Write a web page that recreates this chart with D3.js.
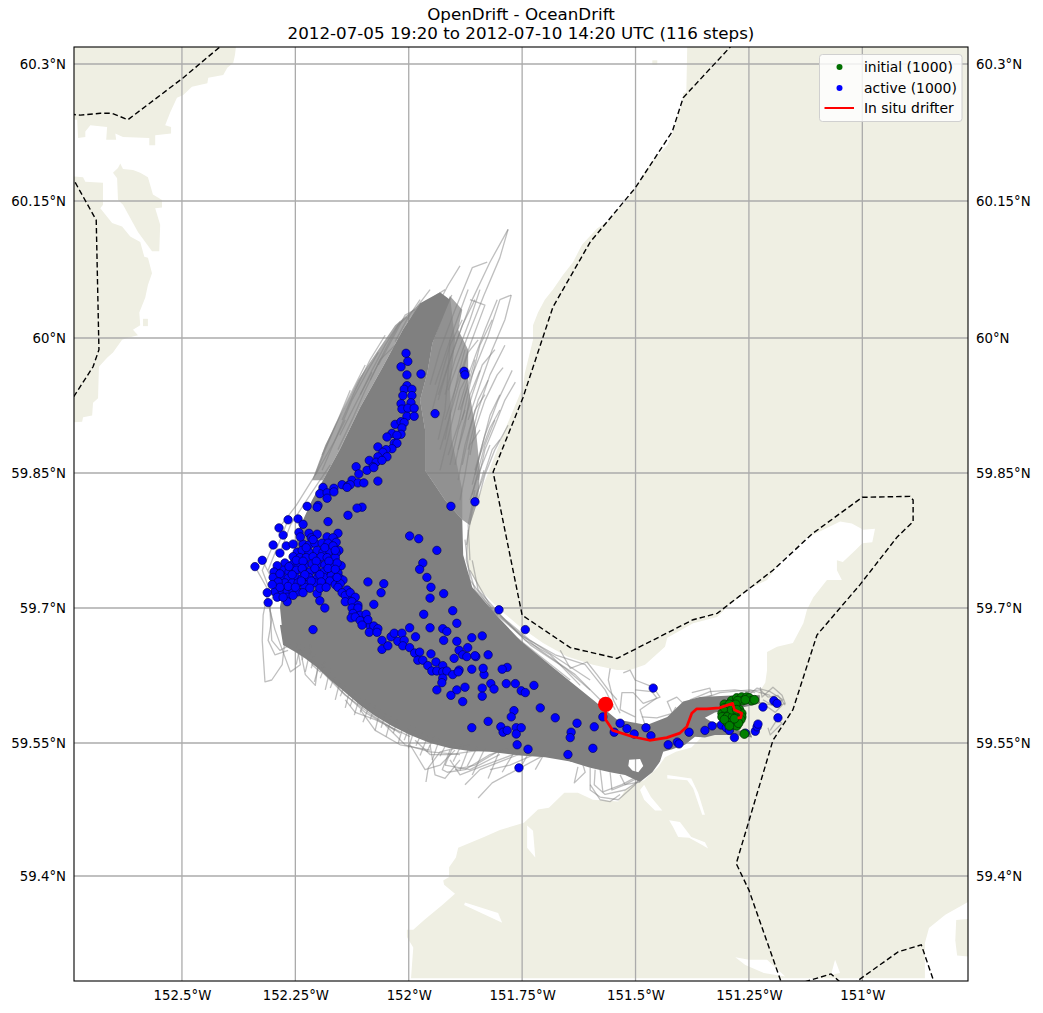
<!DOCTYPE html>
<html><head><meta charset="utf-8">
<script src="https://cdn.jsdelivr.net/npm/d3@7"></script>
<style>html,body{margin:0;padding:0;background:#fff}svg{display:block}text{font-family:"DejaVu Sans",sans-serif;fill:#000}</style>
</head><body><div id="chart"></div>
<script>
const titleLines = ["OpenDrift - OceanDrift", "2012-07-05 19:20 to 2012-07-10 14:20 UTC (116 steps)"];
const lonTicks = [-152.5,-152.25,-152,-151.75,-151.5,-151.25,-151];
const latTicks = [59.4,59.55,59.7,59.85,60,60.15,60.3];
const legendLabels = ["initial (1000)","active (1000)","In situ drifter"];

const landNW = [[-152.746,60.319],[-152.381,60.319],[-152.383,60.310],[-152.387,60.301],[-152.400,60.296],[-152.409,60.288],[-152.442,60.285],[-152.444,60.279],[-152.478,60.275],[-152.497,60.266],[-152.511,60.263],[-152.526,60.247],[-152.537,60.233],[-152.524,60.231],[-152.524,60.224],[-152.559,60.222],[-152.559,60.211],[-152.572,60.211],[-152.572,60.219],[-152.630,60.220],[-152.647,60.224],[-152.645,60.217],[-152.667,60.217],[-152.665,60.231],[-152.702,60.233],[-152.713,60.226],[-152.713,60.220],[-152.729,60.219],[-152.731,60.239],[-152.746,60.239]];
const landIsland = [[-152.636,60.191],[-152.630,60.185],[-152.608,60.184],[-152.592,60.181],[-152.575,60.176],[-152.564,60.157],[-152.544,60.151],[-152.544,60.143],[-152.559,60.142],[-152.548,60.124],[-152.550,60.095],[-152.566,60.095],[-152.597,60.116],[-152.630,60.146],[-152.641,60.151],[-152.643,60.175],[-152.652,60.181],[-152.641,60.186]];
const landWest = [[-152.746,60.177],[-152.718,60.176],[-152.713,60.171],[-152.674,60.170],[-152.674,60.146],[-152.680,60.142],[-152.654,60.126],[-152.632,60.122],[-152.614,60.111],[-152.592,60.105],[-152.583,60.089],[-152.575,60.088],[-152.566,60.071],[-152.575,60.058],[-152.581,60.044],[-152.594,60.028],[-152.592,60.014],[-152.608,60.009],[-152.597,60.003],[-152.621,60.000],[-152.632,59.998],[-152.652,59.984],[-152.665,59.978],[-152.683,59.968],[-152.685,59.933],[-152.696,59.928],[-152.698,59.914],[-152.718,59.912],[-152.720,59.907],[-152.746,59.906]];
const landSmallA = [[-152.586,60.021],[-152.575,60.021],[-152.575,60.013],[-152.586,60.013]];
const landSmallB = [[-151.463,60.304],[-151.452,60.304],[-151.452,60.299],[-151.463,60.299]];
const landSmallC = [[-150.793,59.350],[-150.751,59.352],[-150.751,59.308],[-150.791,59.310],[-150.795,59.327]];
const landMain = [[-151.386,60.319],[-150.751,60.319],[-150.751,59.375],[-150.817,59.356],[-150.853,59.341],[-150.862,59.324],[-150.862,59.284],[-151.995,59.284],[-151.990,59.319],[-152.004,59.331],[-152.004,59.339],[-151.990,59.339],[-151.966,59.350],[-151.926,59.367],[-151.898,59.380],[-151.922,59.390],[-151.924,59.395],[-151.911,59.399],[-151.911,59.410],[-151.896,59.421],[-151.891,59.432],[-151.834,59.444],[-151.799,59.452],[-151.746,59.460],[-151.715,59.475],[-151.691,59.477],[-151.657,59.494],[-151.627,59.494],[-151.594,59.486],[-151.538,59.484],[-151.523,59.497],[-151.499,59.505],[-151.481,59.508],[-151.450,59.523],[-151.435,59.534],[-151.411,59.540],[-151.377,59.545],[-151.353,59.557],[-151.338,59.564],[-151.313,59.573],[-151.280,59.582],[-151.252,59.592],[-151.232,59.603],[-151.214,59.617],[-151.210,59.631],[-151.210,59.651],[-151.188,59.657],[-151.153,59.661],[-151.130,59.683],[-151.122,59.698],[-151.108,59.712],[-151.078,59.731],[-151.045,59.731],[-151.056,59.742],[-151.056,59.753],[-151.043,59.751],[-151.016,59.764],[-151.000,59.772],[-150.978,59.773],[-150.972,59.788],[-150.998,59.787],[-151.023,59.794],[-151.049,59.796],[-151.078,59.789],[-151.122,59.778],[-151.181,59.751],[-151.210,59.731],[-151.248,59.722],[-151.298,59.701],[-151.320,59.690],[-151.373,59.683],[-151.430,59.667],[-151.435,59.657],[-151.479,59.637],[-151.512,59.631],[-151.541,59.631],[-151.594,59.637],[-151.651,59.646],[-151.704,59.661],[-151.754,59.679],[-151.799,59.698],[-151.843,59.720],[-151.869,59.746],[-151.871,59.776],[-151.865,59.798],[-151.849,59.820],[-151.825,59.850],[-151.788,59.898],[-151.748,59.946],[-151.744,59.961],[-151.726,59.998],[-151.726,60.014],[-151.715,60.028],[-151.700,60.042],[-151.682,60.053],[-151.660,60.069],[-151.638,60.083],[-151.618,60.102],[-151.585,60.120],[-151.563,60.127],[-151.541,60.140],[-151.519,60.151],[-151.501,60.164],[-151.479,60.182],[-151.461,60.195],[-151.430,60.211],[-151.419,60.224],[-151.408,60.241],[-151.397,60.257],[-151.395,60.268],[-151.388,60.269]];
const lakeA = [[-151.430,59.514],[-151.377,59.510],[-151.362,59.494],[-151.347,59.469],[-151.353,59.469],[-151.373,59.499],[-151.386,59.508],[-151.430,59.510]];
const lakeB = [[-151.426,59.463],[-151.402,59.461],[-151.377,59.444],[-151.347,59.438],[-151.340,59.431],[-151.353,59.435],[-151.382,59.443],[-151.406,59.444],[-151.417,59.455]];
const lakeC = [[-151.481,59.503],[-151.466,59.489],[-151.441,59.474],[-151.457,59.474],[-151.481,59.486],[-151.490,59.497]];
const lakeD = [[-151.739,59.457],[-151.726,59.451],[-151.721,59.421],[-151.739,59.432]];
const lakeE = [[-151.876,59.370],[-151.803,59.358],[-151.794,59.347],[-151.807,59.350],[-151.878,59.367]];
const lakeF = [[-151.280,59.308],[-151.250,59.305],[-151.210,59.305],[-151.170,59.286],[-151.217,59.290],[-151.258,59.299]];
const lakeG = [[-151.060,59.305],[-151.049,59.290],[-151.069,59.288]];

const borderA = [[-152.746,60.245],[-152.724,60.244],[-152.680,60.246],[-152.654,60.246],[-152.619,60.239],[-152.497,60.285],[-152.411,60.321]];
const borderB = [[-152.746,60.178],[-152.735,60.170],[-152.689,60.129],[-152.683,59.987],[-152.696,59.968],[-152.746,59.929]];
const borderC = [[-151.285,60.322],[-151.395,60.263],[-151.419,60.226],[-151.501,60.164],[-151.600,60.105],[-151.682,60.034],[-151.706,59.998],[-151.748,59.934],[-151.814,59.851],[-151.750,59.692],[-151.644,59.656],[-151.541,59.644],[-151.490,59.657],[-151.373,59.687],[-151.320,59.694],[-151.197,59.742],[-151.109,59.783],[-151.000,59.823],[-150.895,59.824],[-150.888,59.820],[-150.888,59.796],[-150.923,59.779],[-151.005,59.726],[-151.100,59.670],[-151.153,59.587],[-151.197,59.553],[-151.278,59.414],[-151.250,59.384],[-151.177,59.277]];
const borderD = [[-151.127,59.280],[-151.069,59.289],[-151.043,59.277]];
const borderE = [[-151.022,59.277],[-150.921,59.314],[-150.870,59.322],[-150.840,59.277]];

const swathCore = [[-151.931,60.050],[-151.909,60.042],[-151.948,59.994],[-151.959,59.961],[-151.975,59.931],[-151.964,59.898],[-151.964,59.853],[-151.920,59.820],[-151.882,59.798],[-151.880,59.759],[-151.860,59.723],[-151.805,59.691],[-151.754,59.664],[-151.682,59.634],[-151.594,59.598],[-151.541,59.576],[-151.475,59.570],[-151.430,59.579],[-151.395,59.596],[-151.358,59.601],[-151.277,59.603],[-151.226,59.603],[-151.226,59.594],[-151.259,59.590],[-151.325,59.584],[-151.347,59.578],[-151.331,59.573],[-151.309,59.571],[-151.280,59.564],[-151.248,59.564],[-151.243,59.556],[-151.280,59.559],[-151.325,59.559],[-151.347,59.556],[-151.369,59.557],[-151.391,59.548],[-151.419,59.543],[-151.439,59.540],[-151.446,59.529],[-151.463,59.517],[-151.490,59.506],[-151.523,59.514],[-151.556,59.517],[-151.600,59.522],[-151.644,59.529],[-151.682,59.540],[-151.754,59.544],[-151.820,59.548],[-151.931,59.556],[-152.004,59.573],[-152.079,59.594],[-152.152,59.617],[-152.185,59.642],[-152.218,59.664],[-152.246,59.661],[-152.279,59.676],[-152.284,59.701],[-152.270,59.737],[-152.255,59.761],[-152.240,59.790],[-152.213,59.820],[-152.189,59.842],[-152.152,59.876],[-152.107,59.923],[-152.057,59.968],[-152.013,60.009],[-151.975,60.038]];
const swathHole = [[-151.514,59.531],[-151.490,59.532],[-151.483,59.524],[-151.494,59.517],[-151.507,59.519],[-151.516,59.524]];
const swathFan = [[-151.948,59.994],[-151.909,60.046],[-151.882,60.031],[-151.891,60.009],[-151.869,59.987],[-151.869,59.948],[-151.852,59.898],[-151.843,59.853],[-151.847,59.820],[-151.865,59.792],[-151.882,59.798],[-151.920,59.820],[-151.964,59.853],[-151.964,59.898],[-151.975,59.931],[-151.959,59.961]];
const swathFanInner = [[-151.948,59.994],[-151.909,60.046],[-151.898,59.998],[-151.909,59.942],[-151.905,59.887],[-151.882,59.831],[-151.882,59.798],[-151.920,59.820],[-151.964,59.853],[-151.964,59.898],[-151.975,59.931],[-151.959,59.961]];
const swathLeft = [[-152.189,59.842],[-152.152,59.876],[-152.107,59.923],[-152.057,59.968],[-152.013,60.009],[-151.975,60.038],[-151.997,60.028],[-152.030,60.014],[-152.067,59.987],[-152.112,59.953],[-152.151,59.914],[-152.184,59.881],[-152.213,59.842]];
const swathSouth = [[-152.284,59.681],[-152.277,59.659],[-152.250,59.651],[-152.228,59.644],[-152.200,59.633],[-152.173,59.620],[-152.140,59.606],[-152.107,59.592],[-152.074,59.580],[-152.037,59.569],[-151.997,59.559],[-151.953,59.550],[-151.909,59.544],[-151.865,59.541],[-151.821,59.540],[-151.754,59.536],[-151.699,59.534],[-151.644,59.529],[-151.600,59.525],[-151.600,59.540],[-151.821,59.560],[-152.004,59.590],[-152.140,59.640],[-152.217,59.680]];

const fanTracks = [
[[-151.781,60.119],[-151.821,60.083],[-151.860,60.042],[-151.898,59.992],[-151.935,59.937]],
[[-151.781,60.119],[-151.799,60.088],[-151.834,60.047],[-151.873,59.998],[-151.913,59.942]],
[[-151.827,60.083],[-151.860,60.077],[-151.898,60.031],[-151.931,59.987],[-151.953,59.948]],
[[-151.774,60.047],[-151.788,60.020],[-151.816,59.987],[-151.843,59.948],[-151.869,59.909]],
[[-151.774,60.047],[-151.799,60.042],[-151.825,60.003],[-151.860,59.959],[-151.887,59.920]],
[[-151.865,60.042],[-151.832,60.036],[-151.865,59.992],[-151.891,59.953],[-151.920,59.909]],
[[-151.887,60.079],[-151.913,60.058],[-151.942,60.031],[-151.975,59.998]],
[[-151.905,60.047],[-151.931,60.020],[-151.953,59.992]],
[[-152.004,60.023],[-152.023,60.014],[-152.052,59.987],[-152.085,59.953]],
[[-151.986,60.031],[-152.008,60.025],[-152.037,59.998],[-152.067,59.970]],
[[-151.792,59.967],[-151.805,59.959],[-151.832,59.931],[-151.854,59.898],[-151.865,59.870]],
[[-151.765,59.951],[-151.788,59.931],[-151.810,59.903],[-151.832,59.876],[-151.847,59.842]],
[[-151.810,59.987],[-151.838,59.970],[-151.860,59.937],[-151.882,59.898],[-151.898,59.859]],
[[-151.847,59.998],[-151.869,59.984],[-151.887,59.953],[-151.909,59.914],[-151.931,59.876]],
[[-151.799,59.920],[-151.821,59.900],[-151.843,59.870],[-151.860,59.837]],
[[-151.865,59.964],[-151.887,59.942],[-151.909,59.898],[-151.931,59.853]],
[[-151.821,59.881],[-151.847,59.848],[-151.865,59.820]],
[[-151.832,59.937],[-151.854,59.920],[-151.876,59.881],[-151.891,59.842]],
[[-151.882,60.020],[-151.909,59.992],[-151.931,59.953],[-151.948,59.920]],
[[-151.843,59.898],[-151.865,59.881],[-151.876,59.848],[-151.887,59.820]],
[[-151.854,60.042],[-151.882,60.014],[-151.913,59.970],[-151.935,59.931]],
[[-151.909,59.998],[-151.913,59.964],[-151.920,59.920],[-151.935,59.887]],
[[-151.876,59.920],[-151.891,59.898],[-151.909,59.859]],
[[-151.799,59.887],[-151.816,59.876],[-151.838,59.842],[-151.860,59.814]],
[[-152.030,59.992],[-152.063,59.976],[-152.096,59.942],[-152.125,59.909],[-152.156,59.876]],
[[-152.067,59.984],[-152.090,59.964],[-152.125,59.931],[-152.162,59.887]],
[[-151.953,60.053],[-151.979,60.036],[-152.008,60.009]],
[[-152.140,59.909],[-152.162,59.887],[-152.191,59.853]],
[[-152.081,59.962],[-152.118,59.926],[-152.152,59.892]],
[[-151.805,60.042],[-151.832,60.009],[-151.865,59.964],[-151.891,59.920]],
[[-151.843,60.053],[-151.865,60.020],[-151.898,59.976],[-151.920,59.937]],
[[-151.816,60.020],[-151.843,59.992],[-151.865,59.948],[-151.882,59.909]],
[[-151.788,59.992],[-151.821,59.959],[-151.847,59.920],[-151.869,59.876]],
[[-151.772,59.964],[-151.803,59.931],[-151.832,59.892],[-151.854,59.853]],
[[-151.825,59.953],[-151.847,59.931],[-151.865,59.898],[-151.882,59.859]],
[[-151.876,59.987],[-151.891,59.959],[-151.905,59.926],[-151.920,59.887]],
[[-151.854,59.976],[-151.876,59.937],[-151.891,59.903],[-151.913,59.870]],
[[-151.931,60.042],[-151.942,60.009],[-151.964,59.976],[-151.975,59.942]],
[[-151.869,60.053],[-151.898,60.014],[-151.920,59.981],[-151.942,59.948]],
[[-151.810,59.909],[-151.832,59.881],[-151.847,59.853],[-151.860,59.826]],
[[-151.781,59.903],[-151.810,59.876],[-151.832,59.848],[-151.847,59.820]],
[[-151.799,59.937],[-151.821,59.914],[-151.838,59.881],[-151.854,59.848]],
[[-151.843,59.964],[-151.865,59.937],[-151.876,59.903],[-151.891,59.876]],
[[-152.129,59.942],[-152.156,59.909],[-152.184,59.876],[-152.206,59.848]],
[[-152.096,59.970],[-152.129,59.937],[-152.162,59.903],[-152.191,59.870]],
[[-152.052,60.003],[-152.085,59.976],[-152.118,59.942],[-152.147,59.909]],
[[-152.019,60.018],[-152.052,59.992],[-152.081,59.964],[-152.107,59.937]],
[[-151.975,60.042],[-152.002,60.022],[-152.030,59.996]],
[[-151.920,60.053],[-151.948,60.044],[-151.975,60.025]]];
const westTracks = [
[[-152.339,59.746],[-152.310,59.720],[-152.321,59.692],[-152.323,59.664],[-152.317,59.618],[-152.302,59.620],[-152.279,59.637],[-152.273,59.664]],
[[-152.323,59.753],[-152.295,59.726],[-152.306,59.698],[-152.302,59.664],[-152.284,59.653],[-152.261,59.659]],
[[-152.312,59.717],[-152.302,59.687],[-152.310,59.664],[-152.295,59.648],[-152.266,59.653]],
[[-152.310,59.706],[-152.295,59.676],[-152.261,59.629],[-152.239,59.637],[-152.248,59.664]],
[[-152.299,59.770],[-152.323,59.742],[-152.302,59.714]],
[[-152.266,59.798],[-152.288,59.770],[-152.310,59.742]],
[[-152.286,59.789],[-152.248,59.814],[-152.200,59.853],[-152.162,59.887]],
[[-152.284,59.761],[-152.261,59.792],[-152.217,59.826],[-152.173,59.859]],
[[-152.217,59.659],[-152.213,59.637],[-152.195,59.629],[-152.184,59.642]],
[[-152.239,59.653],[-152.228,59.626],[-152.206,59.614],[-152.200,59.637]]];
const southTracks = [
[[-152.239,59.653],[-152.195,59.631],[-152.140,59.603],[-152.081,59.581],[-152.019,59.561]],
[[-152.195,59.637],[-152.151,59.609],[-152.096,59.584],[-152.030,59.564]],
[[-152.140,59.598],[-152.118,59.584],[-152.074,59.576],[-151.997,59.557]],
[[-152.107,59.587],[-152.074,59.564],[-152.019,59.548],[-151.953,59.542]],
[[-152.052,59.570],[-152.008,59.548],[-151.953,59.540],[-151.887,59.537]],
[[-151.986,59.553],[-151.953,59.537],[-151.909,59.537],[-151.843,59.542]],
[[-151.962,59.506],[-151.957,59.522],[-151.931,59.540],[-151.865,59.548]],
[[-151.909,59.542],[-151.926,59.520],[-151.915,59.517],[-151.876,59.520],[-151.821,59.537],[-151.754,59.548]],
[[-151.876,59.503],[-151.843,59.520],[-151.788,59.531],[-151.732,59.542]],
[[-151.847,59.488],[-151.816,59.505],[-151.754,59.522],[-151.688,59.540]],
[[-151.909,59.531],[-151.887,59.514],[-151.832,59.525],[-151.754,59.540]],
[[-151.997,59.548],[-151.964,59.520],[-151.931,59.525],[-151.898,59.542]],
[[-151.920,59.525],[-151.865,59.520],[-151.799,59.537]],
[[-151.953,59.548],[-151.942,59.514],[-151.920,59.510],[-151.887,59.531]],
[[-151.821,59.520],[-151.777,59.525],[-151.710,59.540]],
[[-151.898,59.520],[-151.854,59.525],[-151.799,59.542]],
[[-151.627,59.523],[-151.635,59.505],[-151.611,59.517],[-151.622,59.536]],
[[-151.600,59.522],[-151.600,59.497],[-151.578,59.489],[-151.538,59.486],[-151.501,59.503],[-151.490,59.511]],
[[-151.589,59.520],[-151.591,59.503],[-151.567,59.492],[-151.523,59.497],[-151.490,59.508]],
[[-151.578,59.520],[-151.572,59.495],[-151.530,59.503],[-151.501,59.511]],
[[-151.556,59.517],[-151.552,59.497],[-151.523,59.503],[-151.494,59.511]],
[[-151.600,59.503],[-151.578,59.486],[-151.556,59.484],[-151.534,59.492]],
[[-151.534,59.514],[-151.523,59.503],[-151.490,59.506]]];
const bristleTracks = [
[[-152.239,59.659],[-152.248,59.637]],[[-152.217,59.653],[-152.228,59.629]],[[-152.195,59.642],[-152.208,59.618]],[[-152.173,59.633],[-152.184,59.609]],[[-152.151,59.620],[-152.162,59.598]],[[-152.129,59.611],[-152.140,59.589]],[[-152.107,59.603],[-152.120,59.581]],[[-152.085,59.594],[-152.101,59.573]],[[-152.063,59.587],[-152.074,59.564]],[[-152.037,59.581],[-152.050,59.557]],[[-152.010,59.573],[-152.023,59.550]],[[-151.986,59.567],[-152.001,59.544]],[[-151.957,59.559],[-151.975,59.536]],[[-151.931,59.556],[-151.948,59.531]],[[-151.898,59.551],[-151.920,59.525]],[[-151.865,59.548],[-151.887,59.519]],[[-151.832,59.544],[-151.860,59.514]],[[-151.799,59.542],[-151.825,59.510]],[[-151.765,59.542],[-151.794,59.517]],[[-151.732,59.542],[-151.754,59.522]],[[-151.699,59.540],[-151.721,59.520]],
[[-152.228,59.656],[-152.235,59.642]],[[-152.206,59.648],[-152.215,59.633]],[[-152.184,59.637],[-152.195,59.622]],[[-152.162,59.626],[-152.173,59.611]],[[-152.140,59.615],[-152.151,59.602]],[[-152.118,59.607],[-152.129,59.591]],[[-152.096,59.598],[-152.107,59.584]],[[-152.074,59.591],[-152.085,59.576]],[[-152.050,59.584],[-152.061,59.567]],[[-152.023,59.578],[-152.034,59.561]],[[-151.997,59.570],[-152.010,59.553]],[[-151.971,59.562],[-151.984,59.547]],[[-151.944,59.557],[-151.960,59.540]],[[-151.913,59.553],[-151.931,59.535]],[[-151.882,59.550],[-151.902,59.529]],[[-151.847,59.547],[-151.871,59.524]]];
const shoreTracks = [
[[-151.666,59.653],[-151.644,59.633],[-151.607,59.640],[-151.585,59.626],[-151.560,59.609],[-151.541,59.598]],
[[-151.527,59.628],[-151.512,59.631],[-151.501,59.620],[-151.461,59.612],[-151.446,59.601],[-151.483,59.594],[-151.505,59.606],[-151.530,59.606],[-151.534,59.587],[-151.501,59.579]],
[[-151.556,59.633],[-151.560,59.620],[-151.549,59.598],[-151.534,59.583]],
[[-151.501,59.609],[-151.464,59.607],[-151.453,59.600],[-151.490,59.587],[-151.479,59.570]],
[[-151.411,59.590],[-151.419,59.583],[-151.453,59.578],[-151.486,59.579]],
[[-151.376,59.606],[-151.336,59.611],[-151.332,59.603],[-151.358,59.600],[-151.395,59.594],[-151.409,59.601],[-151.430,59.596],[-151.419,59.583]],
[[-151.876,59.776],[-151.865,59.731],[-151.810,59.694],[-151.754,59.670],[-151.677,59.648],[-151.611,59.637],[-151.567,59.609],[-151.545,59.587]],
[[-151.860,59.753],[-151.847,59.720],[-151.788,59.687],[-151.732,59.659],[-151.655,59.633],[-151.600,59.609]],
[[-151.865,59.742],[-151.821,59.703],[-151.743,59.664],[-151.688,59.648],[-151.622,59.614]],
[[-151.843,59.709],[-151.777,59.681],[-151.710,59.653],[-151.633,59.626],[-151.578,59.598]],
[[-151.799,59.692],[-151.732,59.664],[-151.666,59.642],[-151.600,59.620]],
[[-151.869,59.787],[-151.873,59.753],[-151.854,59.720],[-151.803,59.692]],
[[-151.854,59.831],[-151.869,59.792],[-151.865,59.753]],
[[-151.834,59.853],[-151.860,59.809],[-151.873,59.770]],
[[-151.821,59.687],[-151.754,59.664],[-151.699,59.642],[-151.644,59.620]]];
const eastTracks = [
[[-151.225,59.612],[-151.221,59.601],[-151.197,59.612],[-151.177,59.603],[-151.170,59.594],[-151.192,59.590],[-151.219,59.598]],
[[-151.258,59.607],[-151.225,59.609],[-151.208,59.601],[-151.186,59.603],[-151.170,59.592]],
[[-151.252,59.603],[-151.232,59.611],[-151.203,59.607],[-151.175,59.598],[-151.199,59.592],[-151.236,59.596]],
[[-151.203,59.598],[-151.177,59.592],[-151.192,59.584],[-151.214,59.592]],
[[-151.203,59.564],[-151.188,59.576],[-151.177,59.572],[-151.203,59.559],[-151.208,59.567]],
[[-151.380,59.598],[-151.336,59.607],[-151.281,59.609],[-151.236,59.606]],
[[-151.358,59.598],[-151.314,59.606],[-151.247,59.609],[-151.203,59.603]]];

const activePoints = [[-152.006,59.983],[-152.002,59.974],[-152.017,59.968],[-152.004,59.959],[-151.973,59.960],[-151.878,59.963],[-151.876,59.959],[-152.004,59.947],[-152.010,59.943],[-151.993,59.943],[-152.013,59.936],[-151.993,59.936],[-151.995,59.928],[-152.017,59.927],[-152.015,59.921],[-152.002,59.922],[-151.988,59.922],[-152.004,59.913],[-151.988,59.913],[-151.942,59.916],[-152.030,59.904],[-152.017,59.907],[-152.010,59.906],[-152.015,59.900],[-152.037,59.894],[-152.017,59.893],[-152.026,59.892],[-152.048,59.890],[-152.032,59.883],[-152.026,59.883],[-152.068,59.879],[-152.037,59.877],[-152.050,59.876],[-152.057,59.873],[-152.048,59.868],[-152.068,59.868],[-152.087,59.864],[-152.072,59.862],[-152.059,59.864],[-152.079,59.857],[-152.092,59.853],[-152.077,59.856],[-152.116,59.857],[-152.110,59.849],[-152.068,59.841],[-152.147,59.837],[-152.125,59.842],[-152.134,59.836],[-152.112,59.839],[-152.099,59.839],[-152.103,59.812],[-152.114,59.811],[-152.134,59.803],[-151.907,59.813],[-151.854,59.818],
[-152.189,59.834],[-152.165,59.833],[-152.196,59.827],[-152.180,59.828],[-152.165,59.829],[-152.180,59.822],[-152.200,59.814],[-152.202,59.812],[-152.129,59.837],[-152.136,59.834],[-152.224,59.813],[-152.266,59.798],[-152.244,59.799],[-152.233,59.793],[-152.286,59.789],[-152.242,59.784],[-152.277,59.781],[-152.299,59.770],[-152.270,59.769],[-152.255,59.771],[-152.284,59.761],[-152.323,59.753],[-152.339,59.746],[-152.178,59.796],
[-152.220,59.783],[-152.202,59.782],[-152.180,59.779],[-152.156,59.783],[-152.167,59.778],[-152.215,59.778],[-152.233,59.771],[-152.220,59.770],[-152.207,59.772],[-152.191,59.772],[-152.178,59.772],[-152.160,59.773],[-152.154,59.764],[-152.246,59.762],[-152.235,59.764],[-152.220,59.762],[-152.202,59.764],[-152.189,59.762],[-152.174,59.763],[-152.160,59.761],[-152.255,59.757],[-152.240,59.756],[-152.226,59.756],[-152.211,59.757],[-152.193,59.757],[-152.180,59.756],[-152.162,59.756],[-152.149,59.747],[-152.273,59.750],[-152.257,59.748],[-152.244,59.749],[-152.229,59.748],[-152.213,59.749],[-152.200,59.749],[-152.185,59.748],[-152.169,59.748],[-152.158,59.750],[-152.290,59.742],[-152.277,59.742],[-152.264,59.740],[-152.248,59.742],[-152.233,59.741],[-152.218,59.740],[-152.202,59.741],[-152.187,59.740],[-152.169,59.740],[-152.156,59.739],[-152.279,59.734],[-152.266,59.733],[-152.250,59.734],[-152.235,59.733],[-152.220,59.734],[-152.202,59.733],[-152.187,59.734],[-152.171,59.736],[-152.152,59.733],[-152.273,59.728],[-152.257,59.728],[-152.244,59.728],[-152.229,59.726],[-152.207,59.728],[-152.145,59.731],[-152.295,59.718],[-152.279,59.719],[-152.268,59.718],[-152.255,59.719],[-152.244,59.718],[-152.229,59.723],[-152.268,59.712],[-152.255,59.714],[-152.268,59.707],[-152.233,59.717],[-152.202,59.716],[-152.185,59.724],[-152.196,59.708],[-152.185,59.700],[-152.312,59.717],[-152.310,59.706],[-152.290,59.747],[-152.297,59.740],[-152.299,59.734],[-152.290,59.712],
[-152.211,59.776],[-152.185,59.767],[-152.226,59.767],[-152.167,59.769],[-152.248,59.753],[-152.233,59.752],[-152.204,59.752],[-152.176,59.752],[-152.264,59.746],[-152.235,59.744],[-152.207,59.744],[-152.178,59.744],[-152.162,59.743],[-152.284,59.738],[-152.257,59.737],[-152.229,59.737],[-152.196,59.737],[-152.162,59.732],[-152.288,59.729],[-152.266,59.724],[-152.237,59.730],[-152.215,59.730],[-152.193,59.729],[-152.174,59.730],[-152.162,59.726],[-152.284,59.723],[-152.250,59.723],[-152.218,59.722],[-152.196,59.722],[-152.277,59.712],[-152.301,59.726],[-152.239,59.779],[-152.162,59.764],
[-152.151,59.727],[-152.134,59.709],[-152.118,59.698],[-152.101,59.689],[-152.085,59.680],
[-152.158,59.734],[-152.156,59.723],[-152.136,59.720],[-152.147,59.717],[-152.140,59.714],[-152.129,59.717],[-152.118,59.712],[-152.140,59.707],[-152.125,59.707],[-152.112,59.703],[-152.125,59.700],[-152.112,59.700],[-152.123,59.694],[-152.127,59.689],[-152.107,59.692],[-152.094,59.693],[-152.118,59.690],[-152.107,59.686],[-152.090,59.687],[-152.103,59.681],[-152.077,59.680],[-152.068,59.677],[-152.087,59.673],[-152.070,59.673],[-152.090,59.729],[-152.055,59.727],[-152.061,59.717],[-152.077,59.704],[-152.182,59.723],[-152.211,59.676],
[-152.059,59.664],[-152.059,59.654],[-152.046,59.658],[-152.039,59.668],[-152.032,59.672],[-152.015,59.672],[-152.024,59.663],[-152.010,59.664],[-152.013,59.658],[-151.998,59.656],[-151.987,59.650],[-151.976,59.651],[-151.980,59.642],[-151.969,59.642],[-151.951,59.649],[-151.940,59.640],[-151.958,59.636],[-151.949,59.630],[-151.938,59.630],[-151.925,59.636],[-151.925,59.629],[-151.916,59.630],[-151.925,59.622],[-151.927,59.617],[-151.938,59.609],[-151.903,59.626],[-151.889,59.631],[-151.891,59.629],[-151.861,59.632],[-151.861,59.667],[-151.870,59.656],[-151.889,59.653],[-151.900,59.644],[-151.881,59.648],[-151.872,59.646],[-151.852,59.646],[-151.894,59.663],[-151.923,59.664],[-151.925,59.677],[-151.916,59.674],[-151.953,59.678],[-151.998,59.678],[-151.985,59.668],[-151.967,59.693],[-151.903,59.697],[-151.894,59.683],[-151.923,59.716],[-151.953,59.711],[-151.951,59.723],[-151.960,59.734],[-151.969,59.750],[-151.976,59.743],[-151.938,59.764],[-151.978,59.777],[-151.998,59.780],[-151.907,59.603],[-151.894,59.609],[-151.881,59.596],[-151.876,59.612],[-151.838,59.611],[-151.838,59.602],[-151.834,59.626],[-151.836,59.633],[-151.825,59.648],[-151.838,59.669],[-151.854,59.647],[-151.783,59.634],[-151.794,59.632],[-151.819,59.616],[-151.812,59.610],[-151.785,59.616],[-151.765,59.616],[-151.724,59.614],[-151.752,59.608],[-151.743,59.606],[-151.710,59.589],[-151.768,59.586],[-151.774,59.579],[-151.825,59.574],[-151.861,59.567],[-151.797,59.568],[-151.792,59.562],[-151.783,59.564],[-151.763,59.567],[-151.752,59.567],[-151.763,59.560],[-151.761,59.548],[-151.737,59.543],[-151.757,59.522],[-151.801,59.698],[-151.743,59.676],
[-151.461,59.611],[-151.572,59.579],[-151.534,59.572],[-151.519,59.566],[-151.503,59.560],[-151.477,59.567],[-151.466,59.558],[-151.547,59.562],[-151.591,59.568],[-151.629,59.572],[-151.642,59.562],[-151.644,59.556],[-151.677,59.578],[-151.382,59.562],[-151.347,59.564],[-151.331,59.569],[-151.311,59.570],[-151.300,59.567],[-151.293,59.564],[-151.258,59.561],[-151.282,59.556],[-151.236,59.563],[-151.232,59.568],[-151.230,59.571],[-151.186,59.578],[-151.219,59.590],[-151.195,59.597],[-151.188,59.594],[-151.428,59.548],[-151.408,59.551],[-151.404,59.549],[-151.594,59.544],[-151.649,59.537]];
const initialPoints = [[-151.304,59.593],[-151.288,59.597],[-151.277,59.600],[-151.266,59.601],[-151.255,59.601],[-151.249,59.600],[-151.244,59.597],[-151.264,59.597],[-151.275,59.597],[-151.300,59.587],[-151.293,59.589],[-151.286,59.590],[-151.309,59.583],[-151.300,59.583],[-151.293,59.583],[-151.282,59.583],[-151.271,59.587],[-151.266,59.583],[-151.309,59.579],[-151.298,59.579],[-151.286,59.579],[-151.275,59.579],[-151.266,59.579],[-151.298,59.573],[-151.288,59.573],[-151.277,59.573],[-151.268,59.576],[-151.286,59.570],[-151.277,59.569],[-151.273,59.572],[-151.260,59.560],[-151.304,59.589],[-151.293,59.593],[-151.279,59.593],[-151.288,59.587],[-151.277,59.587],[-151.304,59.576],[-151.282,59.577],[-151.293,59.569],[-151.258,59.598],[-151.238,59.598]];
const drifterPath = [[-151.566,59.593],[-151.566,59.576],[-151.550,59.564],[-151.506,59.557],[-151.469,59.553],[-151.431,59.556],[-151.402,59.561],[-151.387,59.568],[-151.376,59.583],[-151.365,59.588],[-151.343,59.588],[-151.315,59.589],[-151.286,59.594],[-151.282,59.587],[-151.266,59.583],[-151.268,59.578],[-151.275,59.578]];

const W = 1043, H = 1013, L = 74, R = 968, T = 47, B = 981;
const svg = d3.select("#chart").append("svg").attr("width", W).attr("height", H).attr("viewBox", `0 0 ${W} ${H}`);
const x = d3.scaleLinear().domain([-152.738, -150.767]).range([L, R]);
const y = d3.scaleLinear().domain([59.281,59.4,59.55,59.7,59.85,60,60.15,60.3,60.3186]).range([981,876,743,608,473,338,201,64,47]);
const line = d3.line().x(d => x(d[0])).y(d => y(d[1]));
const ring = pts => line(pts) + "Z";

svg.append("defs").append("clipPath").attr("id", "frame").append("rect").attr("x", L).attr("y", T).attr("width", R - L).attr("height", B - T);
const map = svg.append("g").attr("clip-path", "url(#frame)");

const landColor = "#efefe3";
map.selectAll("path.land").data([landNW, landIsland, landWest, landSmallA, landSmallB, landMain, landSmallC]).join("path")
  .attr("class", "land").attr("d", ring).attr("fill", landColor);
map.selectAll("path.lake").data([lakeA, lakeB, lakeC, lakeD, lakeE, lakeF, lakeG]).join("path")
  .attr("class", "lake").attr("d", ring).attr("fill", "#fff");

map.selectAll("line.gx").data(lonTicks).join("line").attr("class", "gx")
  .attr("x1", d => x(d)).attr("x2", d => x(d)).attr("y1", T).attr("y2", B).attr("stroke", "#ababab").attr("stroke-width", 1.3);
map.selectAll("line.gy").data(latTicks).join("line").attr("class", "gy")
  .attr("y1", d => y(d)).attr("y2", d => y(d)).attr("x1", L).attr("x2", R).attr("stroke", "#ababab").attr("stroke-width", 1.3);

map.selectAll("path.border").data([borderA, borderB, borderC, borderD, borderE]).join("path").attr("class", "border")
  .attr("d", line).attr("fill", "none").attr("stroke", "#000").attr("stroke-width", 1.4).attr("stroke-dasharray", "5.5,3");

map.selectAll("path.soft").data([[swathFan, 0.7], [swathFanInner, 0.55], [swathLeft, 0.7], [swathSouth, 1]]).join("path").attr("class", "soft")
  .attr("d", d => ring(d[0])).attr("fill", "#808080").attr("fill-opacity", d => d[1]);
map.selectAll("path.track").data([...fanTracks, ...westTracks, ...southTracks, ...bristleTracks, ...shoreTracks, ...eastTracks]).join("path").attr("class", "track")
  .attr("d", line).attr("fill", "none").attr("stroke", "#808080").attr("stroke-opacity", 0.5).attr("stroke-width", 1.3).attr("stroke-linejoin", "round");
map.append("path").attr("d", ring(swathCore) + ring(swathHole)).attr("fill", "#808080").attr("fill-rule", "evenodd");

map.selectAll("circle.active").data(activePoints).join("circle").attr("class", "active")
  .attr("cx", d => x(d[0])).attr("cy", d => y(d[1])).attr("r", 4.2)
  .attr("fill", "#0000ff").attr("stroke", "#000060").attr("stroke-width", 0.7);
map.selectAll("circle.initial").data(initialPoints).join("circle").attr("class", "initial")
  .attr("cx", d => x(d[0])).attr("cy", d => y(d[1])).attr("r", 4.4)
  .attr("fill", "#008000").attr("stroke", "#003800").attr("stroke-width", 0.8);
map.append("path").attr("d", line(drifterPath)).attr("fill", "none").attr("stroke", "#ff0000").attr("stroke-width", 2.7).attr("stroke-linejoin", "round");
map.append("circle").attr("cx", x(drifterPath[0][0])).attr("cy", y(drifterPath[0][1])).attr("r", 7.6).attr("fill", "#ff0000");

const gBottom = svg.append("g").attr("transform", `translate(0,${B})`)
  .call(d3.axisBottom(x).tickValues(lonTicks).tickSize(0).tickPadding(10).tickFormat(d => `${Math.abs(d)}°W`));
const gLeft = svg.append("g").attr("transform", `translate(${L},0)`)
  .call(d3.axisLeft(y).tickValues(latTicks).tickSize(0).tickPadding(8).tickFormat(d => `${d}°N`));
const gRight = svg.append("g").attr("transform", `translate(${R},0)`)
  .call(d3.axisRight(y).tickValues(latTicks).tickSize(0).tickPadding(8).tickFormat(d => `${d}°N`));
[gBottom, gLeft, gRight].forEach(g => {
  g.select(".domain").remove();
  g.selectAll("text").style("font-family", '"DejaVu Sans",sans-serif').style("font-size", "13.3px").attr("fill", "#000");
});

svg.selectAll("text.title").data(titleLines).join("text").attr("class", "title")
  .attr("x", 521).attr("y", (d, i) => 19.5 + i * 19.5).attr("text-anchor", "middle").style("font-size", "16.7px").text(d => d);

const leg = svg.append("g");
leg.append("rect").attr("x", 819.5).attr("y", 54.5).attr("width", 142.5).attr("height", 67).attr("rx", 3)
  .attr("fill", "#fff").attr("fill-opacity", 0.8).attr("stroke", "#d0d0d0").attr("stroke-width", 1);
leg.append("circle").attr("cx", 839.5).attr("cy", 67).attr("r", 3).attr("fill", "#006f00");
leg.append("circle").attr("cx", 839.5).attr("cy", 88).attr("r", 3).attr("fill", "#0000ff");
leg.append("line").attr("x1", 824.5).attr("x2", 854).attr("y1", 108).attr("y2", 108).attr("stroke", "#ff0000").attr("stroke-width", 2);
leg.selectAll("text").data(legendLabels).join("text").attr("x", 864).attr("y", (d, i) => 72 + i * 20.7)
  .style("font-size", "13.9px").text(d => d);

svg.append("rect").attr("x", L).attr("y", T).attr("width", R - L).attr("height", B - T)
  .attr("fill", "none").attr("stroke", "#000").attr("stroke-width", 1.1);
</script></body></html>
